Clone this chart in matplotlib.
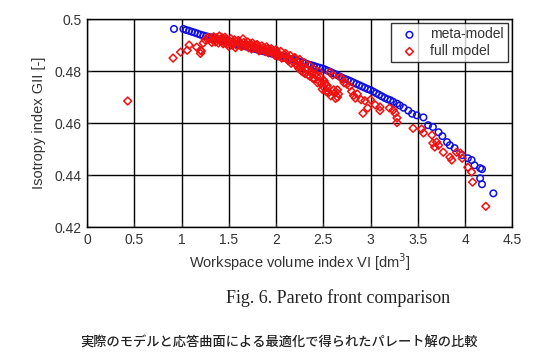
import numpy as np
import matplotlib.pyplot as plt

# meta-model (blue circles)
meta_x = [0.92, 1.02, 1.05, 1.08, 1.11, 1.14, 1.17, 1.20, 1.23, 1.26, 1.29, 1.32, 1.35,
          1.38, 1.41, 1.44, 1.47, 1.50, 1.53, 1.56, 1.59, 1.62, 1.65, 1.68, 1.71, 1.74,
          1.77, 1.80, 1.83, 1.86, 1.89, 1.92, 1.95, 1.98, 2.01, 2.04, 2.07, 2.10, 2.13,
          2.16, 2.19, 2.22, 2.25, 2.28, 2.31, 2.34, 2.37, 2.40, 2.43, 2.46, 2.49, 2.52,
          2.55, 2.58, 2.61, 2.64, 2.67, 2.70, 2.73, 2.76, 2.79, 2.82, 2.85, 2.88, 2.91,
          2.94, 2.97, 3.00, 3.03, 3.06, 3.09, 3.12, 3.15, 3.18, 3.21, 3.24, 3.28, 3.31,
          3.35, 3.40, 3.44, 3.49, 3.56, 3.61, 3.66, 3.72, 3.76, 3.81, 3.84, 3.89, 3.97,
          4.03, 4.07, 4.10, 4.16, 4.18, 4.16, 4.18, 4.30]
meta_y = [0.4962, 0.4962, 0.4958, 0.4955, 0.4951, 0.4948, 0.4944, 0.4940, 0.4937, 0.4934,
          0.4931, 0.4929, 0.4926, 0.4923, 0.4920, 0.4917, 0.4915, 0.4912, 0.4909, 0.4906,
          0.4903, 0.4900, 0.4897, 0.4895, 0.4892, 0.4889, 0.4886, 0.4883, 0.4880, 0.4877,
          0.4874, 0.4871, 0.4868, 0.4865, 0.4862, 0.4859, 0.4856, 0.4853, 0.4849, 0.4846,
          0.4843, 0.4839, 0.4836, 0.4833, 0.4830, 0.4826, 0.4823, 0.4820, 0.4816, 0.4813,
          0.4810, 0.4806, 0.4801, 0.4796, 0.4791, 0.4786, 0.4780, 0.4775, 0.4770, 0.4766,
          0.4761, 0.4756, 0.4751, 0.4746, 0.4741, 0.4736, 0.4731, 0.4727, 0.4721, 0.4715,
          0.4709, 0.4703, 0.4697, 0.4692, 0.4688, 0.4682, 0.4675, 0.4668, 0.4659, 0.4648,
          0.4636, 0.4630, 0.4622, 0.4592, 0.4585, 0.4565, 0.4550, 0.4527, 0.4515, 0.4504,
          0.4477, 0.4465, 0.4458, 0.4438, 0.4427, 0.4423, 0.4388, 0.4365, 0.4330]

# full model (red diamonds)
full_x = [0.43, 0.91, 0.99, 1.06, 1.08, 1.16, 1.20, 1.20, 1.21, 1.23, 1.25, 1.28,
          1.30, 1.32, 1.34, 1.35, 1.37, 1.39, 1.40, 1.42, 1.44, 1.46, 1.48, 1.50,
          1.52, 1.54, 1.55, 1.57, 1.60, 1.62, 1.64, 1.65, 1.67, 1.70, 1.72, 1.74,
          1.75, 1.78, 1.80, 1.82, 1.83, 1.85, 1.88, 1.90, 1.92, 1.93, 1.95, 1.98,
          2.00, 2.02, 2.03, 2.05, 2.08, 2.10, 2.12, 2.13, 2.15, 2.18, 2.20, 2.21,
          2.22, 2.25, 2.26, 2.27, 2.30, 2.31, 2.32, 2.35, 2.36, 2.37, 2.40, 2.41,
          2.42, 2.45, 2.46, 2.47, 2.50, 2.50, 2.52, 2.53, 2.55, 2.57, 2.60, 2.62,
          2.65, 2.65, 2.68, 2.70, 2.72, 2.75, 2.78, 2.80, 2.82, 2.84, 2.86, 2.90,
          2.92, 2.94, 2.97, 3.00, 3.05, 3.10, 3.10, 3.20, 3.24, 3.26, 3.28, 3.28,
          3.45, 3.54, 3.56, 3.65, 3.66, 3.68, 3.70, 3.72, 3.77, 3.84, 3.86, 3.91,
          3.95, 3.97, 4.03, 4.07, 4.08, 4.22,
          1.33, 1.36, 1.38, 1.41, 1.43, 1.45, 1.47, 1.49, 1.51, 1.53, 1.56, 1.58,
          1.61, 1.63, 1.66, 1.69, 1.71, 1.73, 1.76, 1.79, 1.81, 1.84, 1.87, 1.89,
          1.91, 1.94, 1.97, 1.99, 2.01, 2.04, 2.06, 2.09, 2.11, 2.14, 2.16, 2.19,
          2.23, 2.24, 2.28, 2.29, 2.33, 2.34, 2.38, 2.39, 2.43, 2.44, 2.48, 2.49,
          2.51, 2.54, 2.56, 2.58, 2.61, 2.63, 2.66]
full_y = [0.4685, 0.4850, 0.4873, 0.4880, 0.4900, 0.4892, 0.4880, 0.4868, 0.4877, 0.4908,
          0.4920, 0.4930, 0.4925, 0.4910, 0.4932, 0.4918, 0.4928, 0.4908, 0.4935, 0.4922,
          0.4905, 0.4930, 0.4915, 0.4895, 0.4925, 0.4900, 0.4912, 0.4890, 0.4918, 0.4905,
          0.4896, 0.4924, 0.4900, 0.4912, 0.4895, 0.4885, 0.4908, 0.4890, 0.4902, 0.4878,
          0.4885, 0.4897, 0.4878, 0.4893, 0.4870, 0.4875, 0.4886, 0.4866, 0.4882, 0.4858,
          0.4865, 0.4876, 0.4852, 0.4868, 0.4845, 0.4840, 0.4860, 0.4835, 0.4852, 0.4825,
          0.4838, 0.4845, 0.4815, 0.4800, 0.4832, 0.4790, 0.4812, 0.4822, 0.4780, 0.4800,
          0.4808, 0.4770, 0.4790, 0.4798, 0.4760, 0.4778, 0.4765, 0.4740, 0.4750, 0.4722,
          0.4735, 0.4795, 0.4785, 0.4715, 0.4700, 0.4728, 0.4776, 0.4770, 0.4755, 0.4750,
          0.4742, 0.4722, 0.4706, 0.4696, 0.4712, 0.4690, 0.4638, 0.4686, 0.4658, 0.4690,
          0.4670, 0.4662, 0.4648, 0.4658, 0.4650, 0.4638, 0.4620, 0.4602,
          0.4580, 0.4577, 0.4562, 0.4554, 0.4523, 0.4508, 0.4527, 0.4515, 0.4488, 0.4469,
          0.4458, 0.4488, 0.4485, 0.4465, 0.4430, 0.4412, 0.4373, 0.4280,
          0.4920, 0.4912, 0.4925, 0.4915, 0.4928, 0.4910, 0.4922, 0.4905, 0.4915, 0.4908,
          0.4920, 0.4900, 0.4912, 0.4895, 0.4910, 0.4902, 0.4890, 0.4905, 0.4895, 0.4900,
          0.4890, 0.4880, 0.4890, 0.4875, 0.4885, 0.4880, 0.4875, 0.4860, 0.4872, 0.4860,
          0.4850, 0.4862, 0.4855, 0.4848, 0.4830, 0.4850, 0.4822, 0.4810, 0.4818, 0.4795,
          0.4805, 0.4785, 0.4790, 0.4772, 0.4780, 0.4755, 0.4752, 0.4730, 0.4762, 0.4745,
          0.4718, 0.4705, 0.4728, 0.4695, 0.4712]

xticks = [0, 0.5, 1, 1.5, 2, 2.5, 3, 3.5, 4, 4.5]
yticks = [0.42, 0.44, 0.46, 0.48, 0.5]
xtick_labels = ['0', '0.5', '1', '1.5', '2', '2.5', '3', '3.5', '4', '4.5']
ytick_labels = ['0.42', '0.44', '0.46', '0.48', '0.5']

plt.rcParams['font.family'] = ['Liberation Sans', 'DejaVu Sans']
fig = plt.figure(figsize=(5.58, 3.6), dpi=100)
ax = fig.add_axes([0.156, 0.369, 0.762, 0.578])

ax.scatter(meta_x, meta_y, s=22, facecolors='none', edgecolors='#1010e0',
           linewidths=1.1, marker='o', label='meta-model', zorder=3)
ax.scatter(full_x, full_y, s=16, facecolors='none', edgecolors='#f01010',
           linewidths=1.1, marker='D', label='full model', zorder=4)

ax.set_xlim(0, 4.5)
ax.set_ylim(0.42, 0.5)
ax.set_xticks(xticks)
ax.set_xticklabels(xtick_labels)
ax.set_yticks(yticks)
ax.set_yticklabels(ytick_labels)
ax.grid(True, color='black', linewidth=1.0, linestyle='-')
ax.set_axisbelow(True)
ax.tick_params(direction='in', length=3, labelsize=10, colors='#333333', pad=4)
for s in ax.spines.values():
    s.set_color('black')
    s.set_linewidth(1.0)

ax.set_xlabel('Workspace volume index VI [dm$^3$]', fontsize=10.5, color='#333333', labelpad=3)
ax.set_ylabel('Isotropy index GII [-]', fontsize=10.5, color='#333333', labelpad=6)

leg = ax.legend(loc='upper right', fontsize=10, frameon=True, fancybox=False,
                edgecolor='black', borderpad=0.3, handletextpad=0.5,
                labelspacing=0.2, borderaxespad=0.3, scatterpoints=1)
leg.get_frame().set_linewidth(1.0)
for t in leg.get_texts():
    t.set_color('#333333')

fig.text(0.606, 0.172, 'Fig. 6. Pareto front comparison', family='Liberation Serif',
         fontsize=13, color='#222222', ha='center', va='center')
fig.text(0.5, 0.047, '実際のモデルと応答曲面による最適化で得られたパレート解の比較',
         family=['Noto Sans CJK JP', 'DejaVu Sans'], fontsize=9.5, fontweight='medium',
         color='#222222', ha='center', va='center')

fig.savefig('out.png', dpi=100)
